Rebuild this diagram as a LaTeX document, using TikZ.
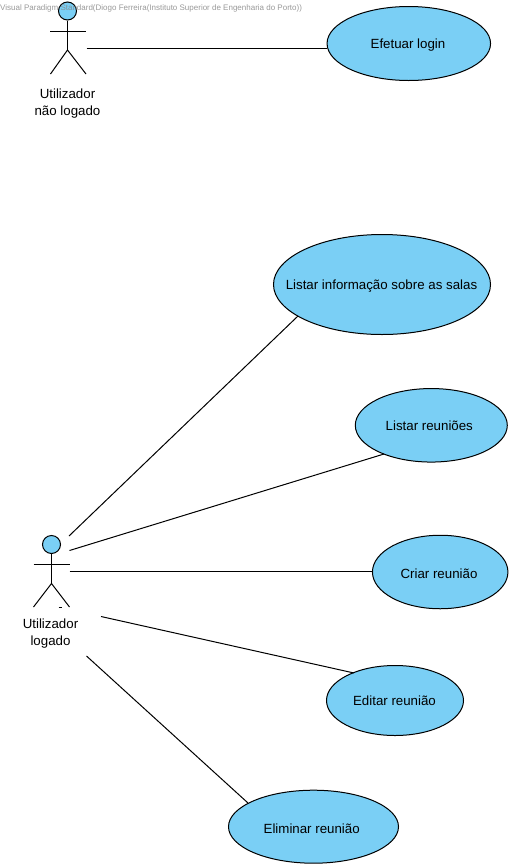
\documentclass[tikz,border=0pt]{standalone}
\usepackage{fontspec}
\setmainfont{Liberation Sans}
\definecolor{ucfill}{RGB}{122,207,245}
\definecolor{wm}{RGB}{135,135,135}
\usetikzlibrary{shapes.geometric}
\tikzset{
  x=1pt,y=-1pt,
  usecase/.style={draw=black,fill=ucfill,ellipse,line width=1pt,inner sep=0pt,minimum width=#1},
  head/.style={draw=black,fill=ucfill,circle,line width=1pt,inner sep=0pt,minimum size=18pt},
  lbl/.style={font=\fontsize{13.3}{17.5}\selectfont,align=center,text=black,inner sep=0pt},
  limb/.style={draw=black,line width=1pt},
  assoc/.style={draw=black,line width=1pt}
}
\begin{document}
\begin{tikzpicture}
\useasboundingbox (0,0) rectangle (512,868);
% use cases
\node[usecase=163.5pt,minimum height=74pt] (login) at (408.8,43.5) {};
\node[lbl] at (408,45.5) {Efetuar login};
\node[usecase=217pt,minimum height=100pt] (salas) at (382,284.5) {};
\node[lbl] at (381.5,286) {Listar informação sobre as salas};
\node[usecase=152pt,minimum height=73.5pt] (listar) at (431.3,425.3) {};
\node[lbl] at (429.3,426) {Listar reuniões};
\node[usecase=135.5pt,minimum height=73.5pt] (criar) at (440.2,572) {};
\node[lbl] at (439,574) {Criar reunião};
\node[usecase=137pt,minimum height=70pt] (editar) at (395,700.5) {};
\node[lbl] at (394.5,701) {Editar reunião};
\node[usecase=170pt,minimum height=73pt] (eliminar) at (313.5,826.7) {};
\node[lbl] at (311.7,829) {Eliminar reunião};
% actor 1
\node[head] (h1) at (67.5,11) {};
\coordinate (hip1) at (67.5,50);
\coordinate (al1) at (50,31);
\coordinate (ar1) at (86,31);
\coordinate (ll1) at (50.5,74);
\coordinate (lr1) at (86,74);
\draw[limb] (h1.south) -- (hip1);
\draw[limb] (al1) -- (ar1);
\draw[limb] (ll1) -- (hip1) -- (lr1);
\node[lbl] (t1) at (67.5,103.5) {Utilizador\\não logado};
% actor 2
\node[head] (h2) at (51.5,544.5) {};
\coordinate (hip2) at (51.5,583.5);
\coordinate (al2) at (33.5,564);
\coordinate (ar2) at (69.5,564);
\coordinate (ll2) at (33.5,607);
\coordinate (lr2) at (69.5,607);
\draw[limb] (h2.south) -- (hip2);
\draw[limb] (al2) -- (ar2);
\draw[limb] (ll2) -- (hip2) -- (lr2);
\coordinate (da) at (58.5,607.3);
\coordinate (db) at (62,607.3);
\draw[limb] (da) -- (db);
\node[lbl] (t2) at (50.5,633.5) {Utilizador\\logado};
% connectors
\coordinate (s1) at (86.5,48);
\coordinate (e1) at (327,48);
\draw[assoc] (s1) -- (e1);
\coordinate (s2) at (69,536);
\coordinate (e2) at (298,316);
\draw[assoc] (s2) -- (e2);
\coordinate (s3) at (69.5,550.5);
\coordinate (e3) at (384,454);
\draw[assoc] (s3) -- (e3);
\coordinate (s4) at (69.5,571.5);
\coordinate (e4) at (373,571.5);
\draw[assoc] (s4) -- (e4);
\coordinate (s5) at (101,616.5);
\coordinate (e5) at (354,673);
\draw[assoc] (s5) -- (e5);
\coordinate (s6) at (86.5,656);
\coordinate (e6) at (248,803);
\draw[assoc] (s6) -- (e6);
% watermark
\node[anchor=west,inner sep=0pt,text=wm,font=\fontsize{8}{9}\selectfont,opacity=0.85] (wmk) at (0,8) {Visual Paradigm Standard(Diogo Ferreira(Instituto Superior de Engenharia do Porto))};
\end{tikzpicture}
\end{document}
